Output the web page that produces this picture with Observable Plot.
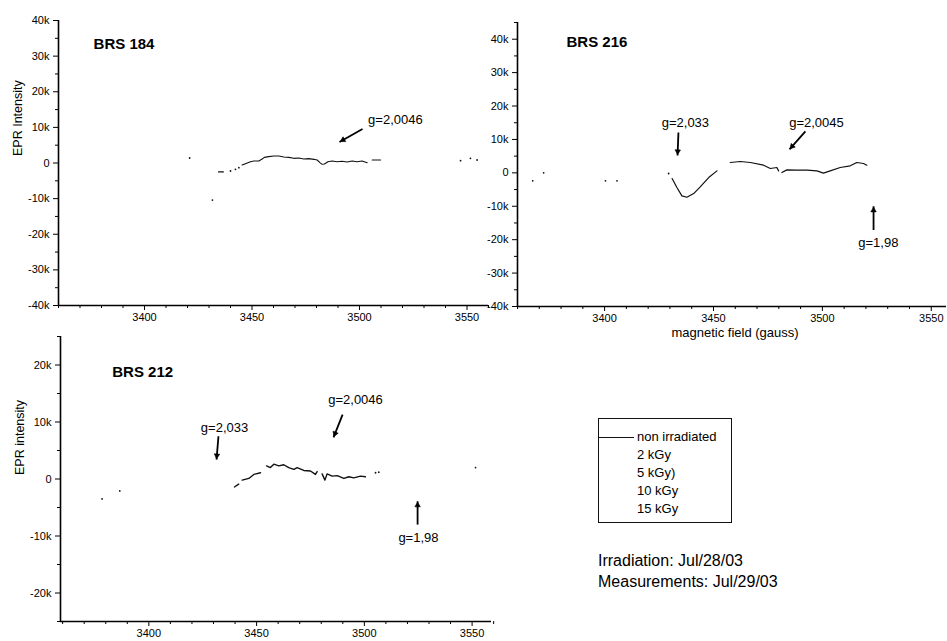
<!DOCTYPE html>
<html><head><meta charset="utf-8">
<script src="https://cdn.jsdelivr.net/npm/d3@7"></script>
<script src="https://cdn.jsdelivr.net/npm/@observablehq/plot@0.6"></script>
<style>
html,body{margin:0;padding:0;background:#fff;overflow:hidden;}
#wrap{position:relative;width:947px;height:641px;font-family:"Liberation Sans",Arial,Helvetica,sans-serif;color:#000;}
.panel{position:absolute;}
.panel svg{background:transparent !important;overflow:visible;}
#legend{position:absolute;left:598px;top:418px;width:134px;height:105px;border:1.3px solid #111;box-sizing:border-box;font-size:13px;}
#legend .row{position:absolute;left:38px;height:18px;line-height:18px;white-space:nowrap;}
#legend .sample{position:absolute;left:0;width:35px;border-top:1.2px solid #111;}
#notes{position:absolute;left:598px;top:550px;font-size:16px;line-height:21px;white-space:nowrap;}
</style>
</head><body>
<div id="wrap"></div>
<script>
// ---------- data ----------
const xMajor = [3400, 3450, 3500, 3550];
const xMinor = [3360,3370,3380,3390,3410,3420,3430,3440,3460,3470,3480,3490,3510,3520,3530,3540,3560];

// BRS 184
const field184 = [3434.4,3436.7, 3445.4,3449.3,3450.8,3453.2,3454.7,3455.8,3457.8,3460.2,3462.5,3464.8,3467.1,3469.5,3471.8,3474.1,3476.4,3478.8,3480.3,3481.6,3482.6,3483.7,3485.3,3487.3,3489.6,3491.9,3494.3,3496.6,3498.9,3501.2,3503.6, 3505.9,3509.8];
const epr184   = [-2500,-2500, -560,370,560,560,1120,1590,1780,1970,1970,1690,1590,1310,1400,1120,1220,1030,840,90,-370,-280,370,560,370,470,280,560,370,560,90, 840,840];
const seg184   = [0,0, 1,1,1,1,1,1,1,1,1,1,1,1,1,1,1,1,1,1,1,1,1,1,1,1,1,1,1,1,1, 2,2];
const dotField184 = [3421.0,3431.6,3440.0,3442.3,3443.9,3547.0,3551.6,3554.7];
const dotEpr184   = [1400,-10400,-2250,-1780,-1310,660,1300,840];
const ann184 = [{label:"g=2,0046", x:3516.7, y:12100, x1:3501.4, y1:9550, x2:3490.7, y2:5900}];

// BRS 216
const field216 = [3431.0,3433.2,3435.5,3437.8,3440.9,3443.9,3447.8,3451.6, 3457.7,3462.3,3466.9,3473.0,3476.1,3479.1,3479.9, 3481.4,3483.7,3488.3,3492.9,3497.5,3500.5,3503.6,3508.2,3512.8,3515.8,3518.9,3520.4];
const epr216   = [-1700,-4400,-6900,-7300,-6200,-4200,-1400,600, 3100,3400,3100,2300,1300,1600,600, 100,900,800,800,600,-100,600,1600,2100,3100,2800,2300];
const seg216   = [0,0,0,0,0,0,0,0, 1,1,1,1,1,1,1, 2,2,2,2,2,2,2,2,2,2,2,2];
const dotField216 = [3367.0,3372.0,3400.4,3405.7,3429.4];
const dotEpr216   = [-2400,0,-2400,-2400,-200];
const ann216 = [
  {label:"g=2,033",  x:3437.1, y:15100,  x1:3433.9, y1:12100,  x2:3433.5, y2:5200},
  {label:"g=2,0045", x:3497.3, y:15100,  x1:3492.2, y1:12400,  x2:3484.9, y2:7000},
  {label:"g=1,98",   x:3525.7, y:-20800, x1:3523.5, y1:-17100, x2:3523.5, y2:-10000}
];

// BRS 212
const field212 = [3439.7,3441.7, 3443.3,3446.4,3448.7,3451.8, 3454.6,3456.4,3458.0,3460.3,3462.6,3464.9,3467.3,3468.8,3471.9,3475.0,3477.3,3478.1, 3480.4,3481.7,3482.7,3485.1,3487.4,3490.5,3492.8,3495.1,3498.2,3500.5];
const epr212   = [-1400,-900, -200,100,800,1100, 2300,2000,2600,2300,2500,2000,1700,2000,1500,1400,800,1300, 900,-200,900,500,600,100,400,200,500,400];
const seg212   = [0,0, 1,1,1,1, 2,2,2,2,2,2,2,2,2,2,2,2, 3,3,3,3,3,3,3,3,3,3];
const dotField212 = [3378.3,3386.5,3505.2,3506.7,3551.6];
const dotEpr212   = [-3500,-2100,1100,1200,2000];
const ann212 = [
  {label:"g=2,033",  x:3435.1, y:8900,   x1:3432.3, y1:7500,  x2:3431.4, y2:3400},
  {label:"g=2,0046", x:3495.9, y:13900,  x1:3489.9, y1:11300, x2:3485.7, y2:7300},
  {label:"g=1,98",   x:3525.1, y:-10300, x1:3524.7, y1:-8000, x2:3524.7, y2:-3900}
];

const legendLabels = ["non irradiated", "2 kGy", "5 kGy)", "10 kGy", "15 kGy"];
const notes = ["Irradiation: Jul/28/03", "Measurements: Jul/29/03"];

// ---------- drawing ----------
const FONT = '"Liberation Sans", Arial, Helvetica, sans-serif';
const kfmt = d => d === 0 ? "0" : `${d / 1000}k`;
const HEAD_R = 2.6; // triangle symbol radius (px)

function panel(c) {
  // pixel-per-unit factors of this panel's scales, used to orient and seat the filled arrowheads
  const kx = (c.w - c.ml - c.mr) / (c.xd[1] - c.xd[0]);
  const ky = (c.h - c.mt - c.mb) / (c.yd[1] - c.yd[0]);
  const tipBack = 2 * Math.sqrt((HEAD_R * HEAD_R * Math.PI) / (3 * Math.sqrt(3)));
  const heads = c.ann.map(a => {
    const px = (a.x2 - a.x1) * kx, py = -(a.y2 - a.y1) * ky;
    const len = Math.hypot(px, py), ux = px / len, uy = py / len;
    return {
      hx: a.x2 - (tipBack * ux) / kx,
      hy: a.y2 + (tipBack * uy) / ky,
      rot: Math.atan2(px, -py) * 180 / Math.PI
    };
  });
  const marks = [
    Plot.ruleX([c.xd[0]], {stroke: "#000", strokeWidth: 1.6}),
    Plot.ruleY([c.yd[0]], {stroke: "#000", strokeWidth: 1.6}),
    Plot.axisX({ticks: xMajor, tickSize: 5, tickPadding: 3, tickFormat: d => String(d), fontSize: 11, label: null}),
    Plot.axisX({ticks: xMinor, tickSize: 3, tickFormat: () => "", label: null}),
    Plot.axisY({ticks: c.yMajor, tickSize: 5, tickPadding: 4, tickFormat: kfmt, fontSize: 11, label: null}),
    Plot.axisY({ticks: c.yMinor, tickSize: 3, tickFormat: () => "", label: null}),
    Plot.line(c.field, {x: c.field, y: c.epr, z: c.seg, stroke: "#111", strokeWidth: c.sw, curve: "linear"}),
    Plot.dot(c.dotField, {x: c.dotField, y: c.dotEpr, r: 0.9, fill: "#111", stroke: null}),
    Plot.text([c.title], {x: [c.tx], y: [c.ty], textAnchor: "start", fontSize: 15, fontWeight: "bold"}),
    Plot.text(c.ann, {x: "x", y: "y", text: "label", fontSize: 13}),
    Plot.link(c.ann, {x1: "x1", y1: "y1", x2: "x2", y2: "y2", stroke: "#000", strokeWidth: 1.8}),
    Plot.dot(heads, {x: "hx", y: "hy", rotate: "rot", symbol: "triangle2", r: HEAD_R, fill: "#000", stroke: "#000", strokeWidth: 0.6})
  ];
  if (c.ylabel) marks.push(Plot.text([c.ylabel], {frameAnchor: "left", rotate: -90, dx: -41, dy: c.ylDy, fontSize: 12.5}));
  if (c.xlabel) marks.push(Plot.text([c.xlabel], {frameAnchor: "bottom", dx: 3, dy: 30, fontSize: 13}));
  const svg = Plot.plot({
    width: c.w, height: c.h,
    marginLeft: c.ml, marginRight: c.mr, marginTop: c.mt, marginBottom: c.mb,
    x: {domain: c.xd, label: null},
    y: {domain: c.yd, label: null},
    style: {fontFamily: FONT, fontSize: "11px", color: "#000", background: "transparent", overflow: "visible"},
    marks
  });
  const div = document.createElement("div");
  div.className = "panel";
  div.style.left = c.left + "px";
  div.style.top = c.top + "px";
  div.appendChild(svg);
  document.getElementById("wrap").appendChild(div);
}

const yMaj40 = [-40000,-30000,-20000,-10000,0,10000,20000,30000,40000];
const yMin40 = [-35000,-25000,-15000,-5000,5000,15000,25000,35000];

panel({left: 0, top: 0, w: 490, h: 330, ml: 58, mr: 2, mt: 20, mb: 25,
  xd: [3360, 3560], yd: [-40000, 40000], yMajor: yMaj40, yMinor: yMin40,
  field: field184, epr: epr184, seg: seg184, dotField: dotField184, dotEpr: dotEpr184, sw: 1.1,
  title: "BRS 184", tx: 3376.3, ty: 33400, ann: ann184, ylabel: "EPR Intensity", ylDy: -7});

panel({left: 470, top: 0, w: 477, h: 342, ml: 47, mr: 1, mt: 22, mb: 36,
  xd: [3360, 3557], yd: [-40000, 45000], yMajor: yMaj40, yMinor: yMin40.concat([45000]),
  field: field216, epr: epr216, seg: seg216, dotField: dotField216, dotEpr: dotEpr216, sw: 1.2,
  title: "BRS 216", tx: 3382.5, ty: 39000, ann: ann216, xlabel: "magnetic field (gauss)"});

panel({left: 0, top: 316, w: 493, h: 325, ml: 60, mr: 2, mt: 20, mb: 20,
  xd: [3359, 3559], yd: [-25000, 25000], yMajor: [-20000,-10000,0,10000,20000], yMinor: [-25000,-15000,-5000,5000,15000,25000],
  field: field212, epr: epr212, seg: seg212, dotField: dotField212, dotEpr: dotEpr212, sw: 1.4,
  title: "BRS 212", tx: 3383, ty: 18800, ann: ann212, ylabel: "EPR intensity", ylDy: -4});

// legend
const leg = document.createElement("div");
leg.id = "legend";
legendLabels.forEach((t, i) => {
  const r = document.createElement("div");
  r.className = "row";
  r.style.top = (9 + i * 18) + "px";
  r.textContent = t;
  leg.appendChild(r);
  if (i === 0) {
    const s = document.createElement("div");
    s.className = "sample";
    s.style.top = (18 + i * 18) + "px";
    leg.appendChild(s);
  }
});
document.getElementById("wrap").appendChild(leg);

const nt = document.createElement("div");
nt.id = "notes";
notes.forEach(t => { const d = document.createElement("div"); d.textContent = t; nt.appendChild(d); });
document.getElementById("wrap").appendChild(nt);
</script>
</body></html>
